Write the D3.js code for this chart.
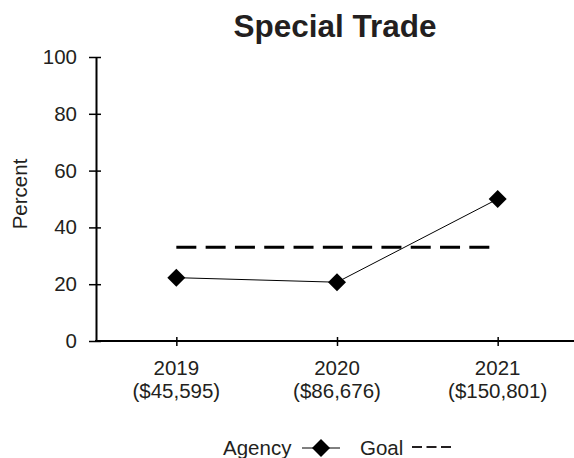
<!DOCTYPE html>
<html>
<head>
<meta charset="utf-8">
<script src="https://cdn.jsdelivr.net/npm/d3@7"></script>
<style>
  html, body { margin: 0; padding: 0; background: #fff; }
  svg { display: block; font-family: "Liberation Sans", Arial, sans-serif; }
</style>
</head>
<body>
<svg id="chart" width="574" height="458"></svg>
<script>
// ---- data ----
const years = ["2019", "2020", "2021"];
const amounts = ["($45,595)", "($86,676)", "($150,801)"];
const agency = [22.3, 20.7, 50.0];
const goal = [33, 33, 33];
const yTicks = [0, 20, 40, 60, 80, 100];
const title = "Special Trade";
const yLabel = "Percent";

// ---- layout ----
const W = 574, H = 458;
const mLeft = 96, mRight = 578, mTop = 57, mBottom = 341;
const textColor = "#231f20";
const fs = 20.5;

const svg = d3.select("#chart");

const x = d3.scalePoint().domain(years).range([mLeft, mRight]).padding(0.5);
const y = d3.scaleLinear().domain([0, 100]).range([mBottom, mTop]);

// title
svg.append("text")
  .attr("x", 335).attr("y", 37)
  .attr("text-anchor", "middle")
  .attr("font-size", 31.5).attr("font-weight", "bold")
  .attr("fill", textColor)
  .text(title);

// y axis
const yAxis = svg.append("g")
  .attr("transform", `translate(${mLeft},0)`)
  .call(d3.axisLeft(y).tickValues(yTicks).tickSize(6).tickPadding(12).tickSizeOuter(0));
yAxis.select(".domain").attr("stroke", "#000").attr("stroke-width", 2);
yAxis.selectAll(".tick line").attr("stroke", "#000").attr("stroke-width", 1.5).attr("x1", 5).attr("x2", -7);
yAxis.selectAll(".tick text").attr("font-size", fs).attr("fill", textColor)
  .attr("font-family", "Liberation Sans, Arial, sans-serif").attr("x", -19);

// x axis
const xAxis = svg.append("g")
  .attr("transform", `translate(0,${mBottom})`)
  .call(d3.axisBottom(x).tickSize(5).tickSizeOuter(0).tickFormat(""));
xAxis.select(".domain").attr("stroke", "#000").attr("stroke-width", 2).attr("d", `M${mLeft - 1},0H${W}`);
xAxis.selectAll(".tick line").attr("stroke", "#000").attr("stroke-width", 1.5).attr("y1", -4).attr("y2", 5);
xAxis.selectAll(".tick text").remove();

// x labels (two lines)
const xl = svg.append("g");
years.forEach((yr, i) => {
  const t = xl.append("text")
    .attr("x", x(yr)).attr("y", 375)
    .attr("text-anchor", "middle")
    .attr("font-size", fs).attr("fill", textColor);
  t.append("tspan").attr("x", x(yr)).text(yr);
  t.append("tspan").attr("x", x(yr)).attr("dy", 22.5).text(amounts[i]);
});

// y label
svg.append("text")
  .attr("transform", "translate(27,194) rotate(-90)")
  .attr("text-anchor", "middle")
  .attr("font-size", fs).attr("fill", textColor)
  .text(yLabel);

// goal line
const line = d3.line().x((d, i) => x(years[i])).y(d => y(d));
svg.append("path")
  .datum(goal)
  .attr("d", line)
  .attr("fill", "none").attr("stroke", "#000")
  .attr("stroke-width", 3).attr("stroke-dasharray", "20,9.3");

// agency line
svg.append("path")
  .datum(agency)
  .attr("d", line)
  .attr("fill", "none").attr("stroke", "#000").attr("stroke-width", 1);

// diamond markers
const diamond = (cx, cy, r) => `M${cx},${cy - r}L${cx + r},${cy}L${cx},${cy + r}L${cx - r},${cy}Z`;
svg.append("g").selectAll("path")
  .data(agency)
  .join("path")
  .attr("d", (d, i) => diamond(x(years[i]), y(d), 9))
  .attr("fill", "#000");

// legend
const lg = svg.append("g");
lg.append("text").attr("x", 223).attr("y", 455)
  .attr("font-size", fs).attr("fill", textColor).text("Agency");
lg.append("line").attr("x1", 302).attr("x2", 340).attr("y1", 448).attr("y2", 448)
  .attr("stroke", "#000").attr("stroke-width", 1);
lg.append("path").attr("d", diamond(321, 448, 9)).attr("fill", "#000");
lg.append("text").attr("x", 360).attr("y", 455)
  .attr("font-size", fs).attr("fill", textColor).text("Goal");
lg.append("line").attr("x1", 412).attr("x2", 452).attr("y1", 447).attr("y2", 447)
  .attr("stroke", textColor).attr("stroke-width", 2).attr("stroke-dasharray", "10,4.5");
</script>
</body>
</html>
